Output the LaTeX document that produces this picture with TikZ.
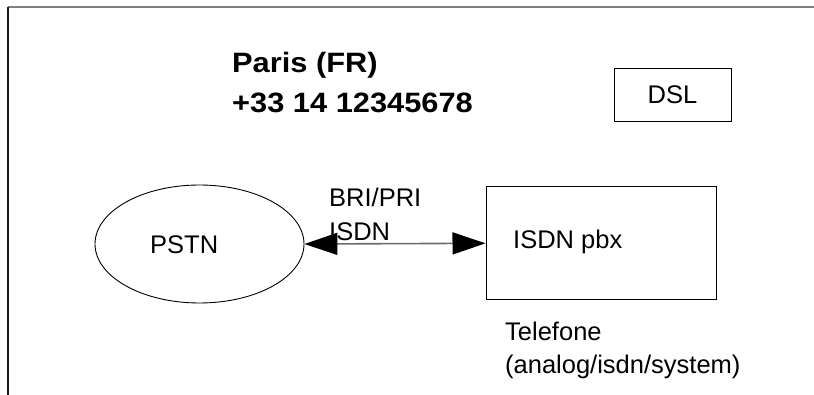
\documentclass[tikz,border=0pt]{standalone}
\usepackage{fontspec}
\setmainfont{Liberation Sans}
\newfontfamily\titlefont[FakeStretch=1.1]{Liberation Sans Bold}
\usetikzlibrary{arrows.meta,shapes.geometric}
\begin{document}
\begin{tikzpicture}[x=1pt,y=-1pt,
  txt/.style={inner sep=0pt, anchor=base west, font=\fontsize{25.5}{30}\selectfont},
  ttl/.style={inner sep=0pt, anchor=base west, font=\fontsize{28}{33}\selectfont\titlefont},
  boxnode/.style={draw=black, line width=0.9pt, rectangle, inner sep=0pt, font=\fontsize{25.5}{30}\selectfont},
  cloud/.style={draw=black, line width=0.9pt, ellipse, inner sep=0pt},
  frametop/.style={draw=gray, line width=2pt},
  frameleft/.style={draw=black!90, line width=1.6pt},
  link/.style={draw=gray!85!black, line width=1.6pt,
    {Triangle[length=33pt,width=22pt,color=black]}-{Triangle[length=33pt,width=22pt,color=black]}},
]
\useasboundingbox (0,0) rectangle (814,395);
\fill[white] (0,0) rectangle (814,395);

% frame
\coordinate (tl) at (8,7);
\coordinate (tr) at (814,7);
\coordinate (bl) at (8,395);
\draw[frametop] (tr) -- (tl);
\draw[frameleft] (tl) -- (bl);

% title
\node[ttl] (city) at (232,72.5) {Paris (FR)};
\node[ttl] (phone) at (232,113) {+33 14 12345678};

% DSL box
\node[boxnode, minimum width=117pt, minimum height=53pt] (dsl) at (672.5,94.5) {DSL};

% PSTN
\node[cloud, minimum width=209pt, minimum height=118pt] (pstn) at (199.5,244) {};
\node[txt] (pstnlabel) at (150,254) {PSTN};

% ISDN pbx
\node[boxnode, minimum width=230.7pt, minimum height=113.3pt] (pbx) at (601.3,243.3) {};
\node[txt] (pbxlabel) at (513,249) {ISDN pbx};

% link
\draw[link] (pstn.east) -- (pbx.west);
\node[txt] (bri1) at (329,207) {BRI/PRI};
\node[txt] (bri2) at (329,241) {ISDN};

% phone note
\node[txt] (tel1) at (505,341) {Telefone};
\node[txt] (tel2) at (505,373) {(analog/isdn/system)};
\end{tikzpicture}
\end{document}
